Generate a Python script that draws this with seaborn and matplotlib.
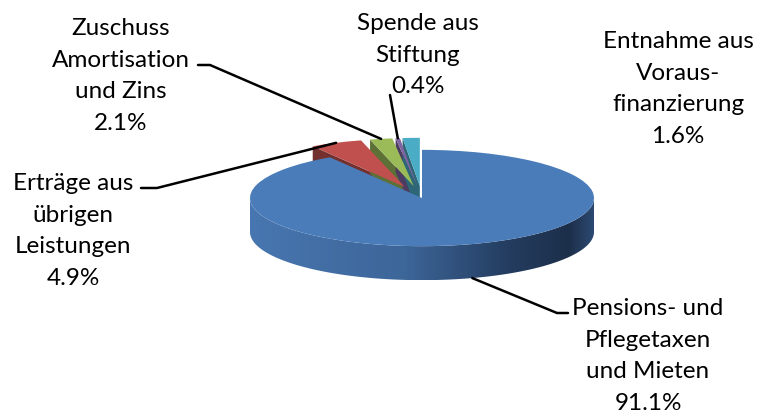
import numpy as np
import matplotlib
matplotlib.use("Agg")
import matplotlib.pyplot as plt
import seaborn as sns
from matplotlib.transforms import Affine2D
from matplotlib.patches import Polygon
from matplotlib.colors import LinearSegmentedColormap, to_rgb

# Daten
kategorien = ["Pensions- und\nPflegetaxen\nund Mieten",
              "Erträge aus\nübrigen\nLeistungen",
              "Zuschuss\nAmortisation\nund Zins",
              "Spende aus\nStiftung",
              "Entnahme aus\nVoraus-\nfinanzierung"]
anteile = [91.1, 4.9, 2.1, 0.4, 1.6]
farben = ["#4a7cb9", "#c0504d", "#9bbb59", "#8064a2", "#4bacc6"]
explode = [0, 0.25, 0.25, 0.25, 0.25]   # Anteil vom Radius

# Label-Positionen (Pixel: Mitte x, Grundlinie der ersten Zeile)
label_pos = [(648, 315), (73, 190), (121, 35), (418, 30), (678, 48)]
zeilenabstand = 31.7
# Leader: Ecke + Ende am Text (None = keine Linie)
leader = [[(557, 313), (568, 313)],
          [(157, 188), (141, 188)],
          [(210, 65), (198, 65)],
          [(390, 95)],
          None]

sns.set_style("white")
plt.rcParams["font.family"] = ["Lato", "DejaVu Sans"]

fig = plt.figure(figsize=(7.58, 4.15), dpi=100)
ax = fig.add_axes([0, 0, 1, 1])

R = 172          # Radius in Pixel
cx, cy = 422, 198
kipp = 0.28      # Stauchung fuer 3D-Look
tiefe = 34       # Hoehe der Seitenwand

wedges, _ = ax.pie(anteile, colors=farben, explode=[e * R for e in explode],
                   startangle=90, counterclock=False, radius=R, center=(0, 0),
                   wedgeprops=dict(linewidth=0))

tr = Affine2D().scale(1, -kipp).translate(cx, cy) + ax.transData
for w in wedges:
    w.set_transform(tr)
    w.set_zorder(3)


def to_px(x, y, unten=False):
    return cx + x, cy - kipp * y + (tiefe if unten else 0)


# Seitenwand vom grossen Stueck (nur vordere Haelfte sichtbar)
w0 = wedges[0]
t = np.radians(np.linspace(max(w0.theta1, -180), min(w0.theta2, 0), 200))
oben = [to_px(R * np.cos(a), R * np.sin(a)) for a in t]
unten = [to_px(R * np.cos(a), R * np.sin(a), True) for a in t[::-1]]
wand = Polygon(oben + unten, closed=True, facecolor="none", edgecolor="none")
ax.add_patch(wand)
cmap = LinearSegmentedColormap.from_list(
    "wand", [(0, "#4876b0"), (0.45, "#3d6699"), (0.75, "#243d60"),
             (0.93, "#1c2f4a"), (1, "#2c4870")])
grad = np.linspace(0, 1, 300).reshape(1, -1)
img = ax.imshow(grad, cmap=cmap, aspect="auto",
                extent=(cx - R, cx + R, cy + R * kipp + tiefe, cy - 5), zorder=2)
img.set_clip_path(wand)

# Schnittflaechen der herausgezogenen Stuecke
for w, f in zip(wedges[1:], farben[1:]):
    ox, oy = w.center
    a = np.radians(w.theta2)
    p1 = (ox, oy)
    p2 = (ox + R * np.cos(a), oy + R * np.sin(a))
    pts = [to_px(*p1), to_px(*p2), to_px(*p2, True), to_px(*p1, True)]
    dunkel = tuple(np.array(to_rgb(f)) * 0.6)
    ax.add_patch(Polygon(pts, closed=True, facecolor=dunkel, edgecolor="none", zorder=2))

# Beschriftungen mit Leader-Linien
for i, (w, k, v) in enumerate(zip(wedges, kategorien, anteile)):
    lx, ly = label_pos[i]
    zeilen = k.split("\n") + [f"{v}%"]
    for j, z in enumerate(zeilen):
        ax.text(lx, ly + j * zeilenabstand, z, ha="center", va="baseline",
                fontsize=17.5, color="black", zorder=5)
    if leader[i] is None:
        continue
    mid = np.radians((w.theta1 + w.theta2) / 2)
    ox, oy = w.center
    if i == 0:
        start = to_px(R * np.cos(np.radians(-73)), R * np.sin(np.radians(-73)), True)
    else:
        start = to_px(ox + R * np.cos(mid), oy + R * np.sin(mid))
    pts = [start] + leader[i]
    ax.plot([p[0] for p in pts], [p[1] for p in pts], color="black", lw=1.8, zorder=4)

ax.set_xlim(0, 758)
ax.set_ylim(415, 0)
ax.set_aspect("auto")
ax.axis("off")

fig.savefig("out.png", dpi=100)
